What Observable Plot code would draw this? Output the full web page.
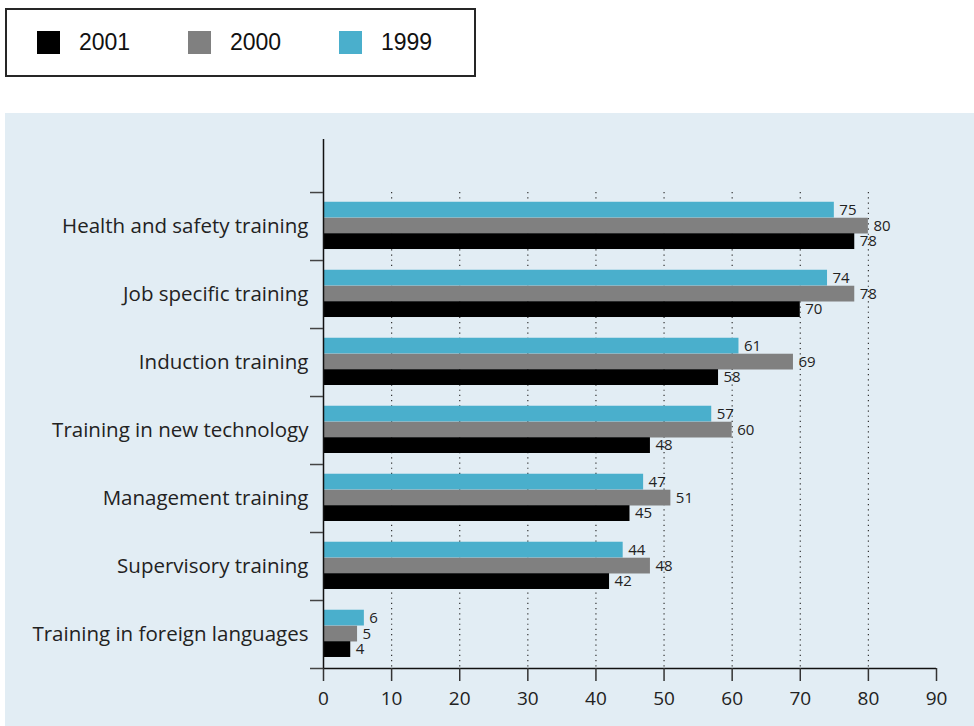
<!DOCTYPE html>
<html><head><meta charset="utf-8">
<script src="https://cdn.jsdelivr.net/npm/d3@7"></script>
<script src="https://cdn.jsdelivr.net/npm/@observablehq/plot@0.6"></script>
<style>
body{margin:0;background:#fff;}
#legend{position:absolute;left:5px;top:8px;width:467px;height:65px;border:2px solid #262626;box-sizing:content-box;
  font-family:"Liberation Sans",Arial,sans-serif;font-size:23px;color:#111;}
#legend .item{position:absolute;top:0;height:65px;display:flex;align-items:center;}
#legend .sw{width:23px;height:23px;margin-right:19px;}
#chart{position:absolute;left:5px;top:113px;}
</style></head>
<body>
<div id="legend"></div>
<div id="chart"></div>
<script>
const categories = [
  "Health and safety training",
  "Job specific training",
  "Induction training",
  "Training in new technology",
  "Management training",
  "Supervisory training",
  "Training in foreign languages"
];
const legendSeries = ["2001", "2000", "1999"];
const legendColors = ["#000000", "#808080", "#4aafcc"];
const values1999 = [75, 74, 61, 57, 47, 44, 6];
const values2000 = [80, 78, 69, 60, 51, 48, 5];
const values2001 = [78, 70, 58, 48, 45, 42, 4];
const xTicks = [0, 10, 20, 30, 40, 50, 60, 70, 80, 90];

// legend
const legend = document.getElementById("legend");
legendSeries.forEach((s, k) => {
  const it = document.createElement("div");
  it.className = "item";
  it.style.left = (30 + k * 151) + "px";
  it.innerHTML = `<div class="sw" style="background:${legendColors[k]}"></div><span>${s}</span>`;
  legend.appendChild(it);
});

// bar layers: order within each category from top to bottom
const layers = [
  {values: values1999, color: "#4aafcc", off: 0.143},
  {values: values2000, color: "#808080", off: 0.378},
  {values: values2001, color: "#000000", off: 0.606}
];
const bh = 0.232;

const marks = [
  Plot.ruleX(xTicks.filter(t => t > 0 && t < 90), {y1: 0, y2: 7, stroke: "#333", strokeWidth: 1.2, strokeDasharray: "1.2,4"})
];
layers.forEach(L => {
  const data = categories.map((c, i) => ({c, i, v: L.values[i]}));
  marks.push(Plot.rect(data, {x1: 0, x2: "v", y1: d => d.i + L.off, y2: d => d.i + L.off + bh, fill: L.color}));
  marks.push(Plot.text(data, {x: "v", y: d => d.i + L.off + bh / 2, text: d => String(d.v), textAnchor: "start", dx: 5, fontSize: 15, fill: "#222"}));
});
marks.push(
  Plot.ruleX([0], {stroke: "#111", strokeWidth: 1.5}),
  Plot.ruleY([7], {stroke: "#111", strokeWidth: 1.5}),
  Plot.axisY({ticks: d3.range(0, 8), tickSize: 13, tickFormat: () => "", stroke: "#444", strokeWidth: 1.5, label: null}),
  Plot.text(categories, {x: 0, y: (d, i) => i + 0.5, text: d => d, textAnchor: "end", dx: -15, fontSize: 20.5, fill: "#222"}),
  Plot.axisX({ticks: xTicks, tickSize: 13, tickPadding: 10, fontSize: 19, stroke: "#333", strokeWidth: 1.5, fill: "#222", tickFormat: d => String(d), label: null})
);

const chart = Plot.plot({
  width: 969,
  height: 613,
  marginLeft: 318,
  marginRight: 38,
  marginTop: 26,
  marginBottom: 58,
  style: {background: "#e2edf4", fontFamily: "'Open Sans', sans-serif"},
  x: {domain: [0, 90], label: null},
  y: {domain: [7, -0.78], axis: null, label: null},
  marks
});
document.getElementById("chart").appendChild(chart);
</script>
</body></html>
